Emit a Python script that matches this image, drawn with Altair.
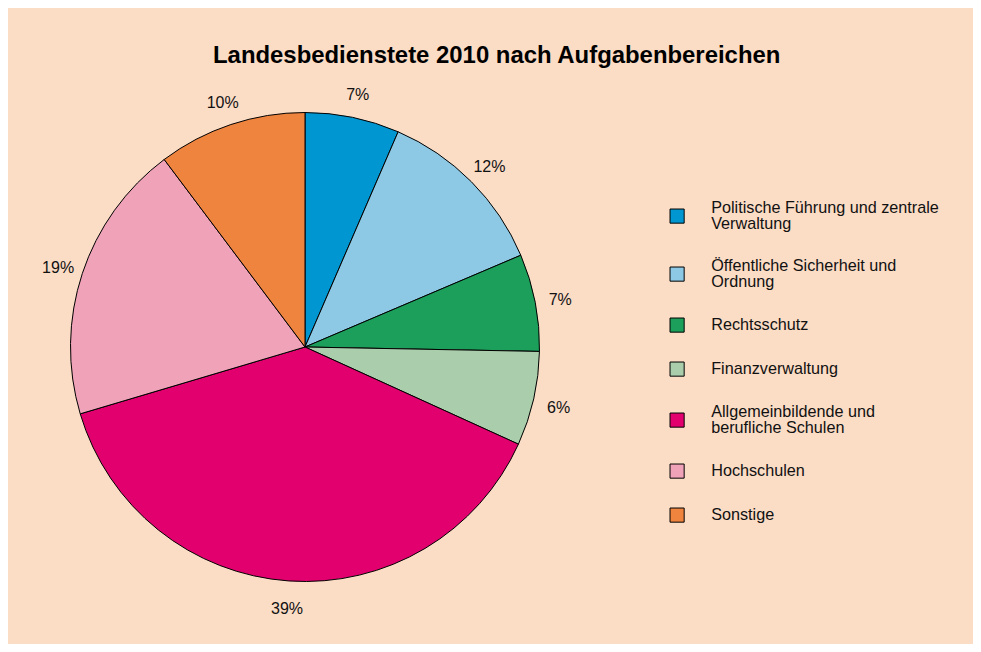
import altair as alt
import pandas as pd

categories = [
    "Politische Führung und zentrale Verwaltung",
    "Öffentliche Sicherheit und Ordnung",
    "Rechtsschutz",
    "Finanzverwaltung",
    "Allgemeinbildende und berufliche Schulen",
    "Hochschulen",
    "Sonstige",
]
shares = [6.5, 12.1, 6.7, 6.5, 38.6, 19.35, 10.25]
pct_labels = ["7%", "12%", "7%", "6%", "39%", "19%", "10%"]
colors = ["#0096D1", "#8DC9E4", "#1C9F5B", "#AACDAC", "#E2006F", "#F0A2B8", "#EE843E"]

# legend line breaks (first line, second line)
legend_lines = {
    "Politische Führung und zentrale Verwaltung": ["Politische Führung und zentrale", "Verwaltung"],
    "Öffentliche Sicherheit und Ordnung": ["Öffentliche Sicherheit und", "Ordnung"],
    "Allgemeinbildende und berufliche Schulen": ["Allgemeinbildende und", "berufliche Schulen"],
}

df = pd.DataFrame({
    "Bereich": categories,
    "Anteil": shares,
    "Label": pct_labels,
    "idx": list(range(len(categories))),
})

label_expr = ""
for k, v in legend_lines.items():
    label_expr += f"datum.label == '{k}' ? {v} : "
label_expr += "datum.label"

multi = "[" + ",".join(f"'{k}'" for k in legend_lines) + "]"
baseline_expr = f"indexof({multi}, datum.value) >= 0 ? 'bottom' : 'middle'"

cx, cy = 297, 339

color = alt.Color(
    "Bereich:N",
    sort=categories,
    scale=alt.Scale(domain=categories, range=colors),
    legend=alt.Legend(
        title=None,
        orient="none",
        legendX=661,
        legendY=200,
        symbolType="square",
        symbolSize=200,
        symbolStrokeColor="black",
        symbolStrokeWidth=1,
        labelFont="Liberation Sans",
        labelFontSize=16.2,
        labelColor="#111111",
        labelOffset=26,
        labelLimit=400,
        rowPadding=25,
        labelExpr=label_expr,
        labelBaseline=alt.ExprRef(expr=baseline_expr),
    ),
)

base = alt.Chart(df).encode(
    theta=alt.Theta("Anteil:Q", stack=True),
    order=alt.Order("idx:Q"),
)

pie = base.mark_arc(outerRadius=234.5, stroke="black", strokeWidth=1).encode(
    color=color,
    x=alt.value(cx),
    y=alt.value(cy),
)

text = base.mark_text(radius=260, dy=3, font="Liberation Sans", fontSize=16, color="#111111").encode(
    text="Label:N",
    x=alt.value(cx),
    y=alt.value(cy),
)

chart = (
    alt.layer(pie, text)
    .properties(
        width=965,
        height=636,
        autosize=alt.AutoSizeParams(type="none"),
        padding=0,
        background="#FBDCC5",
        title=alt.TitleParams(
            "Landesbedienstete 2010 nach Aufgabenbereichen",
            font="Liberation Sans",
            fontSize=23.9,
            fontWeight="bold",
            color="#000000",
            anchor="start",
            dx=205,
            dy=0,
            offset=-60,
        ),
    )
    .configure(style={"guide-label": {"lineHeight": 16}})
    .configure_view(stroke=None)
)

chart.save("out.html", embed_options={"renderer": "svg", "actions": False})
